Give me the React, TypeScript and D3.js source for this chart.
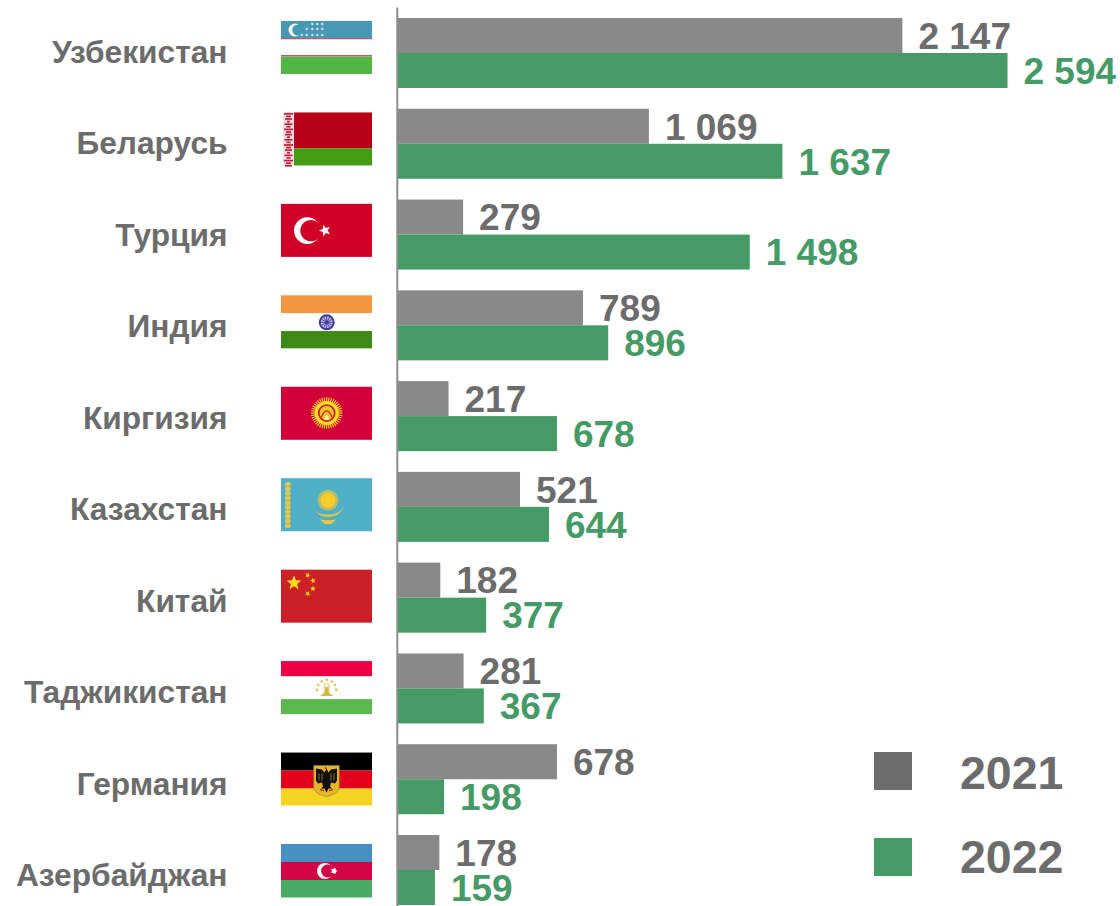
import React from 'react';
import * as d3 from 'd3';

const countries = ['Узбекистан','Беларусь','Турция','Индия','Киргизия','Казахстан','Китай','Таджикистан','Германия','Азербайджан'];
const flagIds = ['uz','by','tr','in','kg','kz','cn','tj','de','az'];
const values2021 = [2147,1069,279,789,217,521,182,281,678,178];
const values2022 = [2594,1637,1498,896,678,644,377,367,198,159];
const years = ['2021','2022'];

const GREY_BAR = '#898989';
const GREEN = '#459a66';
const TEXT = '#6c6c6c';
const FW = 91, FH = 53;
const FONT = '"Liberation Sans", Arial, sans-serif';

const fmt = (v: number) => {
  const s = String(v);
  return s.length > 3 ? s.slice(0, -3) + ' ' + s.slice(-3) : s;
};

const starPath = (cx: number, cy: number, r: number, rot = -90) => {
  const pts: string[] = [];
  for (let i = 0; i < 10; i++) {
    const a = ((rot + i * 36) * Math.PI) / 180;
    const rr = i % 2 ? r * 0.42 : r;
    pts.push(`${cx + rr * Math.cos(a)},${cy + rr * Math.sin(a)}`);
  }
  return `M${pts.join('L')}Z`;
};

const Stripes = ({ rows }: { rows: [number, number, string][] }) => (
  <>{rows.map(([y, h, c], i) => <rect key={i} x={0} y={y} width={FW} height={h} fill={c} />)}</>
);

const Uz = () => (
  <g>
    <Stripes rows={[[0,17,'#4698b5'],[17,1.5,'#d6506f'],[18.5,15.5,'#ffffff'],[34,1.5,'#d6506f'],[35.5,17.5,'#52b544']]} />
    <circle cx={14} cy={9} r={6.5} fill="#fff" />
    <circle cx={16.8} cy={9} r={5.6} fill="#4698b5" />
    {[[31.3,3],[36.3,3],[41.3,3],[25.7,8],[31.3,8],[36.3,8],[41.3,8],[20.7,14],[25.7,14],[31.3,14],[36.3,14],[41.3,14]].map(([x,y],i)=>
      <circle key={i} cx={x} cy={y} r={1.2} fill="#d5e8ee" />)}
  </g>
);
const By = () => (
  <g>
    <rect x={2} width={11} height={FH} fill="#f3dfe2" />
    <rect x={13} width={FW-13} height={36} fill="#b80018" />
    <rect x={13} y={36} width={FW-13} height={17} fill="#429c14" />
    {d3.range(0.5, 53, 2.6).map((y, i) => {
      const w = [9, 5, 7, 3, 8, 4][i % 6];
      return <rect key={i} x={7.5 - w / 2} y={y} width={w} height={1.7} fill="#bf1f38" />;
    })}
  </g>
);
const Tr = () => (
  <g>
    <rect width={FW} height={FH} fill="#d00028" />
    <circle cx={26.3} cy={26.7} r={13.3} fill="#fff" />
    <circle cx={30} cy={26.7} r={10.7} fill="#d00028" />
    <path d={starPath(44, 26.7, 6.2, 180)} fill="#fff" />
  </g>
);
const In = () => (
  <g>
    <Stripes rows={[[0,18,'#f29642'],[18,17.7,'#ffffff'],[35.7,17.3,'#3f8a17']]} />
    <circle cx={45.7} cy={27} r={7} fill="#b9b9e0" stroke="#3c3c98" strokeWidth={2} />
    {d3.range(12).map(i => {
      const a = (i * 30 * Math.PI) / 180;
      return <line key={i} x1={45.7} y1={27} x2={45.7 + 7 * Math.cos(a)} y2={27 + 7 * Math.sin(a)} stroke="#4a4aa4" strokeWidth={0.9} />;
    })}
    <circle cx={45.7} cy={27} r={1.8} fill="#3c3c98" />
  </g>
);
const Kg = () => (
  <g>
    <rect width={FW} height={FH} fill="#d3003a" />
    {d3.range(40).map(i => {
      const a = (i * 9 * Math.PI) / 180;
      return <line key={i} x1={45.7} y1={26.3} x2={45.7 + 15.8 * Math.cos(a)} y2={26.3 + 15.8 * Math.sin(a)} stroke="#f5c92a" strokeWidth={1.2} />;
    })}
    <circle cx={45.7} cy={26.3} r={12} fill="#f8e01c" />
    <circle cx={45.7} cy={26.3} r={8} fill="#f5c52a" stroke="#d3202a" strokeWidth={1.8} />
    <path d="M40,31Q45.7,17 51.4,31" fill="none" stroke="#d3202a" strokeWidth={1.2} />
    <path d="M43,33Q45.7,23 48.4,33Z" fill="#fff2a0" />
  </g>
);
const Kz = () => (
  <g>
    <rect width={FW} height={FH} fill="#4fafc6" />
    {d3.range(3.7, 49.7, 4.6).map((y, i) => (
      <rect key={i} x={4} y={y} width={5.7} height={4.6} rx={2} fill="#e3c552" />
    ))}
    <circle cx={47} cy={22} r={10.4} fill="#dcc349" opacity={0.75} />
    <circle cx={47} cy={22} r={7.5} fill="#f7ca2e" />
    <path d="M32,26Q34,38 47,39Q60,38 64,26Q60,34 55,35Q50,37 47,36Q42,37 38,35Q34,34 32,26Z" fill="#ebc43a" />
    <path d="M39,41Q47,43 55,41Q52,46 47,46Q42,46 39,41Z" fill="#ebc43a" />
  </g>
);
const Cn = () => (
  <g>
    <rect width={FW} height={FH} fill="#cb2027" />
    <path d={starPath(13, 13.3, 7.8)} fill="#fbdc21" />
    <path d={starPath(26.7, 5.7, 3.1, -60)} fill="#f6c71e" />
    <path d={starPath(32, 11, 3.1, -30)} fill="#f6c71e" />
    <path d={starPath(32, 19, 3.1, -90)} fill="#f6c71e" />
    <path d={starPath(26.7, 24, 3.1, -60)} fill="#f6c71e" />
  </g>
);
const Tj = () => (
  <g>
    <Stripes rows={[[0,15.3,'#ee0044'],[15.3,22.7,'#ffffff'],[38,15,'#5cb84e']]} />
    {[[45.7,18.7],[40.7,20.3],[50.7,20.3],[37.3,24],[54,24],[36,28.7],[55.3,28.7]].map(([x,y],i)=>
      <circle key={i} cx={x} cy={y} r={1.2} fill="#d8b93e" />)}
    <path d="M39,35L43,32L44,26H47.4L48.4,32L52.4,35Z" fill="#d8b93e" />
    <circle cx={45.7} cy={25} r={2.4} fill="none" stroke="#d8b93e" strokeWidth={0.9} />
  </g>
);
const De = () => (
  <g>
    <Stripes rows={[[0,18,'#000000'],[18,18,'#e2001a'],[36,17,'#f6d424']]} />
    <path d="M32.7,13H58.3V36Q56,42 45.5,44Q35,42 32.7,36Z" fill="#e4b72a" stroke="#8a7a30" strokeWidth={0.6} />
    <path d="M45.5,16L47.5,20L50,17L56,16L56,28L54,31L50,30L49,34L51,36L47.5,36L45.5,40L43.5,36L40,36L42,34L41,30L37,31L35,28L35,16L41,17L43.5,20Z" fill="#111" />
    {[38, 41, 50, 53].map(x => <line key={x} x1={x} x2={x} y1={21} y2={28} stroke="#c89a20" strokeWidth={0.7} />)}
    <path d="M39,37L43,38M52,37L48,38M45.5,16.5L44,15" stroke="#c0261c" strokeWidth={1.4} />
  </g>
);
const Az = () => (
  <g>
    <Stripes rows={[[0,18,'#4690c3'],[18,18,'#d20346'],[36,17.5,'#48ab66']]} />
    <circle cx={44} cy={27} r={8} fill="#fff" />
    <circle cx={46.5} cy={27} r={6.4} fill="#d20346" />
    <path d={starPath(53, 27, 3.8, 0)} fill="#fff" />
    <circle cx={53} cy={27} r={2.4} fill="#fff" />
  </g>
);

const flagMap: Record<string, () => React.ReactElement> = { uz: Uz, by: By, tr: Tr, in: In, kg: Kg, kz: Kz, cn: Cn, tj: Tj, de: De, az: Az };

export default function App() {
  const y = d3.scaleBand<string>().domain(countries).range([18, 905]).paddingInner(0.229).paddingOuter(0);
  const inner = d3.scaleBand<string>().domain(years).range([0, y.bandwidth()]);
  const x = d3.scaleLinear().domain([0, 2594]).range([397.5, 1007.5]);
  const flagY = d3.scalePoint<string>().domain(countries).range([21, 844]);
  const series: [string, number[], string][] = [['2021', values2021, GREY_BAR], ['2022', values2022, GREEN]];

  return (
    <svg width={1120} height={906} style={{ position: 'absolute', left: 0, top: 0, fontFamily: FONT }}>
      <rect width={1120} height={906} fill="#fff" />
      {countries.map((c, i) => {
        const F = flagMap[flagIds[i]];
        const fy = flagY(c)!;
        return (
          <g key={c}>
            <text x={227.5} y={fy + 42} textAnchor="end" fontSize={31.7} fontWeight={700} fill={TEXT}>{c}</text>
            <g transform={`translate(281,${fy})`}><F /></g>
          </g>
        );
      })}
      {series.map(([yr, vals, col]) => countries.map((c, i) => {
        const top = y(c)! + inner(yr)!;
        const h = inner.bandwidth();
        return (
          <g key={yr + c}>
            <rect x={x(0)} y={top} width={x(vals[i]) - x(0)} height={h} fill={col} />
            <text x={x(vals[i]) + 16} y={top + h / 2 + 13.3} fontSize={37} fontWeight={700}
              fill={yr === '2021' ? TEXT : GREEN}>{fmt(vals[i])}</text>
          </g>
        );
      }))}
      <line x1={397.3} x2={397.3} y1={7.5} y2={906} stroke="#8c8c8c" strokeWidth={2} />
      {years.map((yr, i) => (
        <g key={yr}>
          <rect x={874} y={752 + i * 86} width={38} height={38} fill={i ? GREEN : '#6c6c6c'} />
          <text x={960} y={789.3 + i * 84} fontSize={46.5} fontWeight={700} fill={TEXT}>{yr}</text>
        </g>
      ))}
    </svg>
  );
}
